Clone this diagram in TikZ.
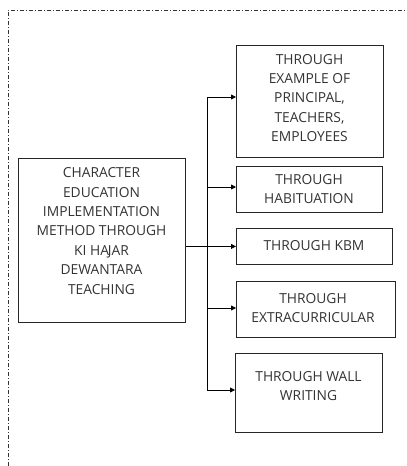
\documentclass[tikz,border=0pt]{standalone}
\usepackage{fontspec}
\setmainfont{Open Sans}
\usetikzlibrary{arrows.meta}
\definecolor{txtgray}{HTML}{333333}
\tikzset{
  boxnode/.style={draw=black!85, line width=0.8pt, inner sep=0pt, anchor=north west},
  txtnode/.style={align=center, text=txtgray, inner sep=0pt,
    font=\fontsize{13.8}{19.4}\selectfont},
  link/.style={draw=black, line width=0.8pt},
  arr/.style={link, -{Triangle[length=5pt,width=5pt]}},
  frame/.style={draw=black!80, line width=0.7pt, dash pattern=on 4pt off 2pt on 1pt off 2pt}
}
\begin{document}
\begin{tikzpicture}[x=1pt,y=-1pt]
\useasboundingbox (0,0) rectangle (407,466);
\draw[frame] (8,466) -- (8,10) -- (407,10);

% main box
\node[boxnode, minimum width=167pt, minimum height=164pt] (main) at (18,158) {};
\node[txtnode] (maint) at (101.5,231) {CHARACTER\\EDUCATION\\IMPLEMENTATION\\METHOD THROUGH\\KI HA\kern-1.2pt JAR\\DEWANTARA\\TEACHING};

% right boxes
\node[boxnode, minimum width=147pt, minimum height=112pt] (b1) at (236,45) {};
\node[txtnode] (t1) at (309.5,98) {THROUGH\\EXAMPLE OF\\PRINCIPAL,\\TEACHERS,\\EMPLOYEES};

\node[boxnode, minimum width=146pt, minimum height=46pt] (b2) at (236,166) {};
\node[txtnode] (t2) at (309,189) {THROUGH\\HABITUATION};

\node[boxnode, minimum width=156pt, minimum height=36pt] (b3) at (236,228) {};
\node[txtnode] (t3) at (314,246) {THROUGH KBM};

\node[boxnode, minimum width=159pt, minimum height=56pt] (b4) at (236,281) {};
\node[txtnode] (t4) at (313,308) {THROUGH\\EXTRACURRICULAR};

\node[boxnode, minimum width=147pt, minimum height=79pt] (b5) at (235,353) {};
\node[txtnode] (t5) at (308.5,386) {THROUGH WALL\\WRITING};

% trunk
\coordinate (j1) at (207,97);
\coordinate (j2) at (207,187);
\coordinate (j4) at (207,308);
\coordinate (j5) at (207,390);
\draw[link] (j1) -- (j5);
\draw[arr] (j1) -- (j1 -| b1.west);
\draw[arr] (j2) -- (j2 -| b2.west);
\draw[arr] (j4) -- (j4 -| b4.west);
\draw[arr] (j5) -- (j5 -| b5.west);
\draw[arr] (main.east |- b3.west) -- (b3.west);
\end{tikzpicture}
\end{document}
